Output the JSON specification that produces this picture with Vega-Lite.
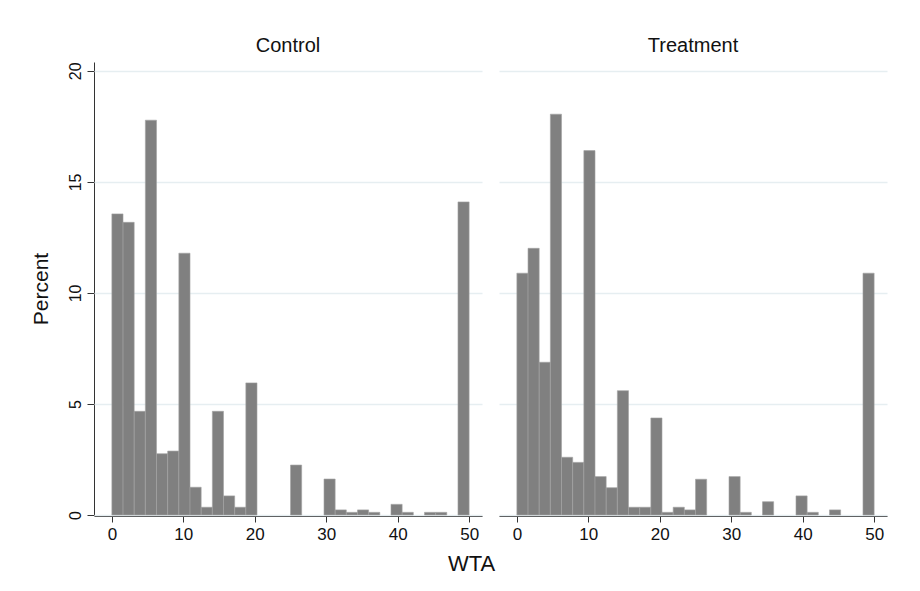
{
  "$schema": "https://vega.github.io/schema/vega-lite/v6.json",
  "background": "white",
  "padding": {"left": 29, "top": 36, "right": 5, "bottom": 5},
  "title": {
    "text": "WTA",
    "orient": "bottom",
    "anchor": "middle",
    "fontSize": 22,
    "fontWeight": "normal",
    "font": "Liberation Sans",
    "color": "#111111",
    "offset": 12,
    "dx": 13
  },
  "data": {
    "values": [
      {"group": "Control", "bin_start": 0, "bin_end": 1.5625, "percent": 13.56},
      {"group": "Control", "bin_start": 1.5625, "bin_end": 3.125, "percent": 13.18},
      {"group": "Control", "bin_start": 3.125, "bin_end": 4.6875, "percent": 4.67},
      {"group": "Control", "bin_start": 4.6875, "bin_end": 6.25, "percent": 17.78},
      {"group": "Control", "bin_start": 6.25, "bin_end": 7.8125, "percent": 2.76},
      {"group": "Control", "bin_start": 7.8125, "bin_end": 9.375, "percent": 2.88},
      {"group": "Control", "bin_start": 9.375, "bin_end": 10.9375, "percent": 11.79},
      {"group": "Control", "bin_start": 10.9375, "bin_end": 12.5, "percent": 1.25},
      {"group": "Control", "bin_start": 12.5, "bin_end": 14.0625, "percent": 0.35},
      {"group": "Control", "bin_start": 14.0625, "bin_end": 15.625, "percent": 4.67},
      {"group": "Control", "bin_start": 15.625, "bin_end": 17.1875, "percent": 0.86},
      {"group": "Control", "bin_start": 17.1875, "bin_end": 18.75, "percent": 0.35},
      {"group": "Control", "bin_start": 18.75, "bin_end": 20.3125, "percent": 5.95},
      {"group": "Control", "bin_start": 25, "bin_end": 26.5625, "percent": 2.25},
      {"group": "Control", "bin_start": 29.6875, "bin_end": 31.25, "percent": 1.62},
      {"group": "Control", "bin_start": 31.25, "bin_end": 32.8125, "percent": 0.23},
      {"group": "Control", "bin_start": 32.8125, "bin_end": 34.375, "percent": 0.12},
      {"group": "Control", "bin_start": 34.375, "bin_end": 35.9375, "percent": 0.23},
      {"group": "Control", "bin_start": 35.9375, "bin_end": 37.5, "percent": 0.12},
      {"group": "Control", "bin_start": 39.0625, "bin_end": 40.625, "percent": 0.48},
      {"group": "Control", "bin_start": 40.625, "bin_end": 42.1875, "percent": 0.12},
      {"group": "Control", "bin_start": 43.75, "bin_end": 45.3125, "percent": 0.12},
      {"group": "Control", "bin_start": 45.3125, "bin_end": 46.875, "percent": 0.12},
      {"group": "Control", "bin_start": 48.4375, "bin_end": 50, "percent": 14.1},
      {"group": "Treatment", "bin_start": 0, "bin_end": 1.5625, "percent": 10.89},
      {"group": "Treatment", "bin_start": 1.5625, "bin_end": 3.125, "percent": 12.01},
      {"group": "Treatment", "bin_start": 3.125, "bin_end": 4.6875, "percent": 6.88},
      {"group": "Treatment", "bin_start": 4.6875, "bin_end": 6.25, "percent": 18.05},
      {"group": "Treatment", "bin_start": 6.25, "bin_end": 7.8125, "percent": 2.6},
      {"group": "Treatment", "bin_start": 7.8125, "bin_end": 9.375, "percent": 2.37},
      {"group": "Treatment", "bin_start": 9.375, "bin_end": 10.9375, "percent": 16.41},
      {"group": "Treatment", "bin_start": 10.9375, "bin_end": 12.5, "percent": 1.73},
      {"group": "Treatment", "bin_start": 12.5, "bin_end": 14.0625, "percent": 1.23},
      {"group": "Treatment", "bin_start": 14.0625, "bin_end": 15.625, "percent": 5.6},
      {"group": "Treatment", "bin_start": 15.625, "bin_end": 17.1875, "percent": 0.35},
      {"group": "Treatment", "bin_start": 17.1875, "bin_end": 18.75, "percent": 0.35},
      {"group": "Treatment", "bin_start": 18.75, "bin_end": 20.3125, "percent": 4.37},
      {"group": "Treatment", "bin_start": 20.3125, "bin_end": 21.875, "percent": 0.12},
      {"group": "Treatment", "bin_start": 21.875, "bin_end": 23.4375, "percent": 0.35},
      {"group": "Treatment", "bin_start": 23.4375, "bin_end": 25, "percent": 0.23},
      {"group": "Treatment", "bin_start": 25, "bin_end": 26.5625, "percent": 1.61},
      {"group": "Treatment", "bin_start": 29.6875, "bin_end": 31.25, "percent": 1.73},
      {"group": "Treatment", "bin_start": 31.25, "bin_end": 32.8125, "percent": 0.12},
      {"group": "Treatment", "bin_start": 34.375, "bin_end": 35.9375, "percent": 0.6},
      {"group": "Treatment", "bin_start": 39.0625, "bin_end": 40.625, "percent": 0.86},
      {"group": "Treatment", "bin_start": 40.625, "bin_end": 42.1875, "percent": 0.12},
      {"group": "Treatment", "bin_start": 43.75, "bin_end": 45.3125, "percent": 0.23},
      {"group": "Treatment", "bin_start": 48.4375, "bin_end": 50, "percent": 10.89}
    ]
  },
  "facet": {
    "column": {
      "field": "group",
      "type": "nominal",
      "sort": ["Control", "Treatment"],
      "title": null,
      "header": {
        "labelFontSize": 20,
        "labelFont": "Liberation Sans",
        "labelColor": "#111111",
        "labelPadding": 6
      }
    }
  },
  "spacing": 17,
  "spec": {
    "width": 388,
    "height": 453,
    "mark": {"type": "bar", "fill": "#808080", "stroke": "#a3a3a3", "strokeWidth": 0.6},
    "encoding": {
      "x": {
        "field": "bin_start",
        "type": "quantitative",
        "scale": {"domain": [-2.5, 51.8], "nice": false, "zero": false},
        "axis": {
          "values": [0, 10, 20, 30, 40, 50],
          "title": null,
          "grid": false,
          "labelFontSize": 17,
          "labelColor": "#111111",
          "labelPadding": 4,
          "tickSize": 6,
          "tickColor": "#333333",
          "domainColor": "#333333"
        }
      },
      "x2": {"field": "bin_end"},
      "y": {
        "field": "percent",
        "type": "quantitative",
        "scale": {"domain": [0, 20.4], "nice": false},
        "axis": {
          "values": [0, 5, 10, 15, 20],
          "title": "Percent",
          "titleFontSize": 21,
          "titleFontWeight": "normal",
          "titleColor": "#111111",
          "titlePadding": 16,
          "labelAngle": -90,
          "labelFontSize": 16,
          "labelColor": "#111111",
          "labelPadding": 4,
          "tickSize": 7,
          "tickColor": "#333333",
          "domainColor": "#333333",
          "gridColor": "#e6eef1",
          "gridWidth": 1.5
        }
      },
      "y2": {"datum": 0}
    }
  },
  "config": {
    "font": "Liberation Sans",
    "view": {"stroke": null}
  }
}
